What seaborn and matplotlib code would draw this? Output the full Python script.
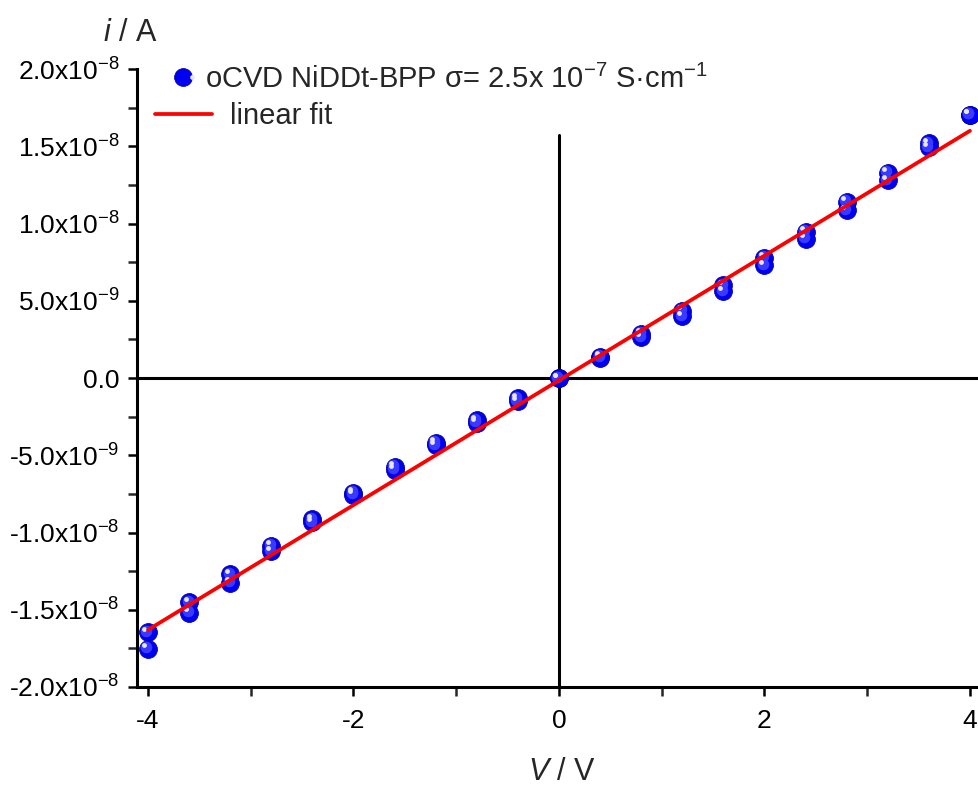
import numpy as np
import pandas as pd
import matplotlib
matplotlib.use('Agg')
import matplotlib.pyplot as plt
import matplotlib.transforms as mtransforms
from matplotlib.lines import Line2D
from matplotlib.legend_handler import HandlerTuple
from matplotlib.ticker import MultipleLocator
import seaborn as sns

# I-V data, two sweeps
volts = [-4.0, -3.6, -3.2, -2.8, -2.4, -2.0, -1.6, -1.2, -0.8, -0.4, 0.0,
         0.4, 0.8, 1.2, 1.6, 2.0, 2.4, 2.8, 3.2, 3.6, 4.0]
current_a = [-1.645e-8, -1.45e-8, -1.27e-8, -1.085e-8, -0.915e-8, -0.742e-8,
             -0.574e-8, -0.418e-8, -0.272e-8, -0.13e-8, 0.0,
             0.136e-8, 0.285e-8, 0.434e-8, 0.60e-8, 0.777e-8, 0.945e-8,
             1.14e-8, 1.327e-8, 1.52e-8, 1.705e-8]
current_b = [-1.754e-8, -1.52e-8, -1.325e-8, -1.12e-8, -0.935e-8, -0.757e-8,
             -0.595e-8, -0.434e-8, -0.29e-8, -0.149e-8, 0.0,
             0.13e-8, 0.265e-8, 0.40e-8, 0.563e-8, 0.73e-8, 0.90e-8,
             1.087e-8, 1.28e-8, 1.495e-8, 1.705e-8]

# linear fit line end points
fit_v = [-4.0, 4.0]
fit_i = [-1.63e-8, 1.60e-8]

y_ticks = [-2e-8, -1.5e-8, -1e-8, -5e-9, 0.0, 5e-9, 1e-8, 1.5e-8, 2e-8]
y_tick_labels = ['-2.0x10$^{-8}$', '-1.5x10$^{-8}$', '-1.0x10$^{-8}$', '-5.0x10$^{-9}$',
                 '0.0', '5.0x10$^{-9}$', '1.0x10$^{-8}$', '1.5x10$^{-8}$', '2.0x10$^{-8}$']
x_ticks = [-4, -2, 0, 2, 4]

df = pd.DataFrame({'V': volts + volts, 'i': current_a + current_b})
fit_df = pd.DataFrame({'V': fit_v, 'i': fit_i})

sns.set_style('ticks')
plt.rcParams['font.family'] = ['Liberation Sans', 'DejaVu Sans']
plt.rcParams['mathtext.fontset'] = 'custom'
plt.rcParams['mathtext.rm'] = 'Liberation Sans'
plt.rcParams['mathtext.it'] = 'Liberation Sans:italic'
plt.rcParams['mathtext.default'] = 'regular'

W, H = 979, 787
fig = plt.figure(figsize=(W / 100, H / 100), dpi=100)
ax = fig.add_axes([137 / W, 100 / H, (W - 137) / W, 618 / H])

blue = '#0000F0'
# crosshair at origin
ax.axhline(0, color='black', lw=2.2, zorder=1)
ax.axvline(0, ymin=0, ymax=(1.57e-8 + 2e-8) / 4e-8, color='black', lw=2.2, zorder=1)

# spheres: base + shading + highlight
sns.scatterplot(data=df, x='V', y='i', s=165, color=blue, edgecolor='#0000B0',
                linewidth=0.6, ax=ax, zorder=3, legend=False)
off1 = mtransforms.offset_copy(ax.transData, fig=fig, x=-1.5, y=1.5, units='dots')
ax.scatter(df['V'], df['i'], s=70, color='#3a3aff', linewidth=0, transform=off1, zorder=4)
off2 = mtransforms.offset_copy(ax.transData, fig=fig, x=-3.5, y=3.5, units='dots')
ax.scatter(df['V'], df['i'], s=12, color='#e6e6ff', linewidth=0, transform=off2, zorder=5)

sns.lineplot(data=fit_df, x='V', y='i', color='#ff0000', lw=2.7, ax=ax, zorder=6)

ax.set_xlim(-4.107, 4.088)
ax.set_ylim(-2e-8, 2e-8)
ax.set_xticks(x_ticks)
ax.set_xticklabels([str(t) for t in x_ticks])
ax.set_yticks(y_ticks)
ax.set_yticklabels(y_tick_labels)
ax.xaxis.set_minor_locator(MultipleLocator(1))
ax.yaxis.set_minor_locator(MultipleLocator(2.5e-9))
ax.tick_params(which='major', direction='out', length=6.5, width=1.8, labelsize=19,
               colors='black', pad=6)
ax.tick_params(which='minor', direction='out', length=6.5, width=1.8)
ax.tick_params(axis='x', pad=9)
for side in ['top', 'right']:
    ax.spines[side].set_visible(False)
for side in ['left', 'bottom']:
    ax.spines[side].set_linewidth(2.2)
    ax.spines[side].set_color('black')
ax.set_xlabel('')
ax.set_ylabel('')

fig.text(562 / W, 1 - 780 / H, '$\\mathit{V}$ / V', fontsize=22, ha='center', va='baseline')
fig.text(130 / W, 1 - 41 / H, '$\\mathit{i}$ / A', fontsize=22, ha='center', va='baseline')

# legends (two, Origin-style alignment)
h_base = Line2D([], [], ls='', marker='o', markersize=12.8, markerfacecolor=blue,
                markeredgecolor='#0000B0', markeredgewidth=0.6)
h_hl = Line2D([], [], ls='', marker='o', markersize=3.4, markerfacecolor='#e6e6ff',
              markeredgewidth=0)
leg1 = fig.legend([(h_base, h_hl)], ['oCVD NiDDt-BPP σ= 2.5x 10$^{-7}$ S·cm$^{-1}$'],
                  handler_map={tuple: HandlerTuple(ndivide=None, pad=0)},
                  loc='center left', bbox_to_anchor=(179 / W, 1 - 79 / H),
                  frameon=False, fontsize=21, borderpad=0, borderaxespad=0,
                  handlelength=0.6, handletextpad=0.3)
h_line = Line2D([], [], color='#ff0000', lw=2.7)
leg2 = fig.legend([h_line], ['linear fit'], loc='center left',
                  bbox_to_anchor=(155 / W, 1 - 116 / H), frameon=False, fontsize=21,
                  borderpad=0, borderaxespad=0, handlelength=1.95, handletextpad=0.62)

fig.savefig('out.png', dpi=100)
